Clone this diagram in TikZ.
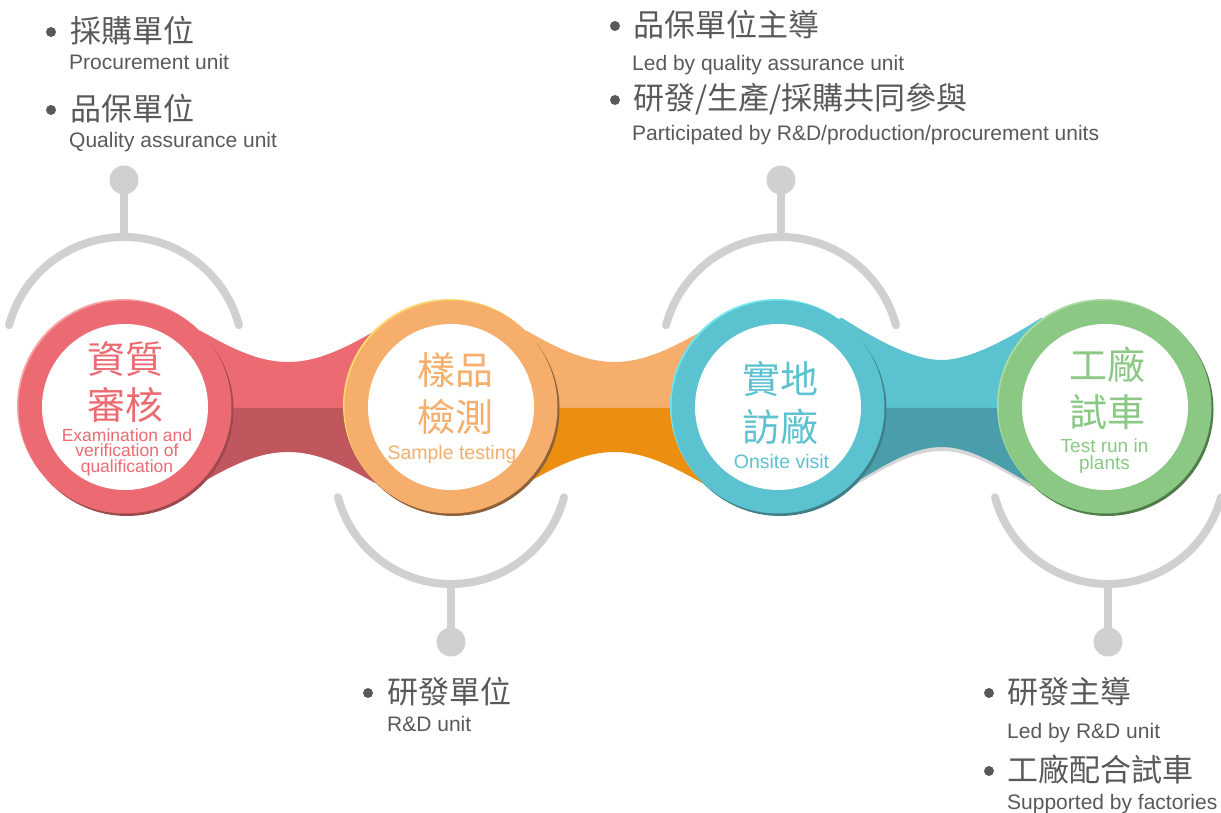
\documentclass[tikz,border=0pt]{standalone}
\usepackage{fontspec}
\setmainfont{Liberation Sans}
\newfontfamily\cjk{Noto Sans CJK TC}
\definecolor{txtgray}{HTML}{595959}
\definecolor{arcgray}{HTML}{CFD0CF}
\definecolor{redM}{HTML}{EC6B73}
\definecolor{redD}{HTML}{C0575F}
\definecolor{redH}{HTML}{F6A3A5}
\definecolor{redS}{HTML}{9C4A4F}
\definecolor{oraM}{HTML}{F5AE6B}
\definecolor{oraD}{HTML}{EC8F10}
\definecolor{oraH}{HTML}{FBD86E}
\definecolor{oraS}{HTML}{8E6238}
\definecolor{bluM}{HTML}{5BC2CF}
\definecolor{bluD}{HTML}{4A9EAC}
\definecolor{bluH}{HTML}{72E6F0}
\definecolor{bluS}{HTML}{3F7F88}
\definecolor{grnM}{HTML}{8AC883}
\definecolor{grnH}{HTML}{A9DBA3}
\definecolor{grnS}{HTML}{4F7D4A}
\definecolor{shadowgray}{HTML}{D6D6D6}
\newcommand\ringat[5]{%
  \fill[#5] (#2+2,403.5) circle[radius=106.5pt];
  \fill[#4] (#2-1.5,407.5) circle[radius=106.5pt];
  \node[circle, fill=#3, minimum size=213pt, inner sep=0pt] (#1) at (#2,406) {};
  \fill[white] (#1.center) circle[radius=83pt];
}
\begin{document}
\begin{tikzpicture}[x=1pt,y=1pt,
  arcline/.style={draw=arcgray, line width=8pt, line cap=round},
  dot/.style={circle, fill=arcgray, minimum size=29pt, inner sep=0pt},
  zh/.style={font=\cjk\fontsize{31}{31}\selectfont, text=txtgray, inner sep=0pt, anchor=west},
  en/.style={font=\fontsize{21}{21}\selectfont, text=txtgray, inner sep=0pt, anchor=base west},
  bul/.style={circle, fill=txtgray, minimum size=10pt, inner sep=0pt},
  bigzh/.style={font=\cjk\fontsize{38}{#1}\selectfont, align=center, inner sep=0pt},
  smallen/.style={font=\fontsize{19.5}{16}\selectfont, align=center, inner sep=0pt}]
\useasboundingbox (0,0) rectangle (1221,813);

% ---- grey arcs with stems and dots ----
\node[dot] (d1) at (124,633) {};
\draw[arcline] (124,457) ++(165:119pt) arc[start angle=165, end angle=15, radius=119pt];
\draw[arcline] (d1) -- (124,576);
\node[dot] (d2) at (451,171) {};
\draw[arcline] (451,346) ++(195:117pt) arc[start angle=195, end angle=345, radius=117pt];
\draw[arcline] (d2) -- (451,229);
\node[dot] (d3) at (781,633) {};
\draw[arcline] (781,457) ++(165:119pt) arc[start angle=165, end angle=15, radius=119pt];
\draw[arcline] (d3) -- (781,576);
\node[dot] (d4) at (1108,171) {};
\draw[arcline] (1108,346) ++(195:117pt) arc[start angle=195, end angle=345, radius=117pt];
\draw[arcline] (d4) -- (1108,229);

% ---- connector bands ----
% band 1 (red)
\fill[redM] (125,482) -- (201,482) .. controls (231,465) and (258,451) .. (288,451) .. controls (318,451) and (345,465) .. (375,482) -- (451,482) -- (451,405) -- (125,405) -- cycle;
\fill[redD] (125,330) -- (201,330) .. controls (231,347) and (258,361) .. (288,361) .. controls (318,361) and (345,347) .. (375,330) -- (451,330) -- (451,405) -- (125,405) -- cycle;
% band 2 (orange)
\fill[oraM] (451,482) -- (527,482) .. controls (557,465) and (584.5,451) .. (614.5,451) .. controls (644.5,451) and (672,465) .. (702,482) -- (778,482) -- (778,405) -- (451,405) -- cycle;
\fill[oraD] (451,330) -- (527,330) .. controls (557,347) and (584.5,361) .. (614.5,361) .. controls (644.5,361) and (672,347) .. (702,330) -- (778,330) -- (778,405) -- (451,405) -- cycle;
% band 3 (blue)
\fill[shadowgray] (778,327) -- (854,327) .. controls (884,344) and (911.5,362) .. (941.5,362) .. controls (971.5,362) and (999,344) .. (1029,327) -- (1105,327) -- (1105,405) -- (778,405) -- cycle;
\fill[bluM] (778,482) -- (842,495) .. controls (872,476) and (911.5,453) .. (941.5,453) .. controls (971.5,453) and (1011,476) .. (1041,495) -- (1105,482) -- (1105,405) -- (778,405) -- cycle;
\fill[bluD] (778,330) -- (854,330) .. controls (884,347) and (911.5,366) .. (941.5,366) .. controls (971.5,366) and (999,347) .. (1029,330) -- (1105,330) -- (1105,405) -- (778,405) -- cycle;

% ---- circles ----
\ringat{c1}{125}{redM}{redH}{redS}
\ringat{c2}{451}{oraM}{oraH}{oraS}
\ringat{c3}{778}{bluM}{bluH}{bluS}
\ringat{c4}{1105}{grnM}{grnH}{grnS}

% ---- circle texts ----
\node[bigzh=46, text=redM] (z1) at (125,431) {資質\\審核};
\node[font=\fontsize{17.5}{15.5}\selectfont, align=center, inner sep=0pt, text=redM] (s1) at (127,361) {Examination and\\verification of\\qualification};
\node[bigzh=47, text=oraM] (z2) at (455,419.5) {樣品\\檢測};
\node[smallen, text=oraM, anchor=base] (s2) at (452,353) {Sample testing};
\node[bigzh=47.5, text=bluM] (z3) at (780,410) {實地\\訪廠};
\node[smallen, text=bluM, anchor=base] (s3) at (781.5,344) {Onsite visit};
\node[font=\fontsize{19}{17}\selectfont, align=center, inner sep=0pt, text=grnM] (s4) at (1104.5,357) {Test run in\\plants};
\node[bigzh=47, text=grnM] (z4) at (1107,424.5) {工廠\\試車};

% ---- bullet lists ----
\node[bul] (b1) at (51,781) {};
\node[zh] (t1) at (70,782) {採購單位};
\node[en] (e1) at (69,743) {Procurement unit};
\node[bul] (b2) at (51,703) {};
\node[zh] (t2) at (70,704) {品保單位};
\node[en] (e2) at (69,665) {Quality assurance unit};

\node[bul] (b3) at (615,787) {};
\node[zh] (t3) at (633,788) {品保單位主導};
\node[en] (e3) at (632,742) {Led by quality assurance unit};
\node[bul] (b4) at (615,713) {};
\node[zh] (t4) at (633,714) {研發/生產/採購共同參與};
\node[en] (e4) at (632,672) {Participated by R\&D/production/procurement units};

\node[bul] (b5) at (368,120) {};
\node[zh] (t5) at (387,121) {研發單位};
\node[en] (e5) at (387,81) {R\&D unit};

\node[bul] (b6) at (989,120) {};
\node[zh] (t6) at (1007,121) {研發主導};
\node[en] (e6) at (1007,74) {Led by R\&D unit};
\node[bul] (b7) at (989,42) {};
\node[zh] (t7) at (1007,43) {工廠配合試車};
\node[en] (e7) at (1007,3) {Supported by factories};
\end{tikzpicture}
\end{document}
